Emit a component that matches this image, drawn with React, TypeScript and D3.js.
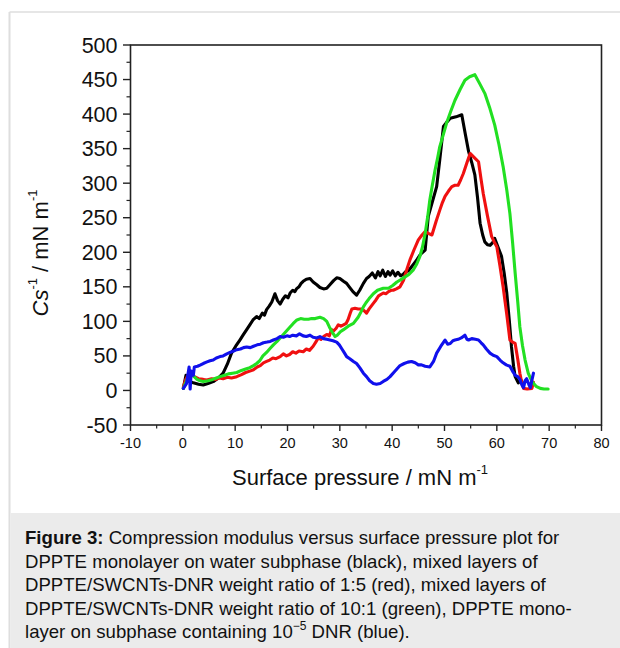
import React from "react";
import * as d3 from "d3";

const xTicks = [-10, 0, 10, 20, 30, 40, 50, 60, 70, 80];
const yTicks = [-50, 0, 50, 100, 150, 200, 250, 300, 350, 400, 450, 500];

const blackSeries: [number, number][] = [
  [0.1,3],[0.6,22],[1.0,14],[2.0,11],[3.0,9],[3.9,8],[4.8,10],[5.8,12.8],[6.8,18],[7.7,25],[8.5,38],[9.3,54],[10.1,64],[10.9,73],[11.5,80],[12.2,88],[12.8,95],[13.4,102],[14.1,107],[14.6,104],[15.2,112],[15.6,109],[16.0,117],[16.5,122],[17.0,128],[17.6,140],[18.1,130],[18.6,125],[19.1,132],[19.6,137],[20.1,134],[20.5,141],[21.0,145],[21.4,143],[21.7,147],[22.2,150],[22.6,155],[23.0,158],[23.6,161],[24.3,162],[24.9,157],[25.6,153],[26.2,149],[26.9,147],[27.5,148],[28.1,153],[28.8,159],[29.4,163],[30.0,162],[30.7,158],[31.3,155],[31.8,150],[32.5,143],[33.2,138],[33.8,145],[34.5,155],[35.1,162],[35.6,165],[36.2,170],[36.8,163],[37.3,172],[37.7,166],[38.2,174],[38.7,165],[39.2,172],[39.6,167],[40.1,173],[40.6,166],[41.1,171],[41.6,166],[42.1,168],[42.6,172],[43.1,173],[43.6,178],[44.2,184],[44.8,190],[45.4,197],[46.3,203],[46.9,252],[47.6,271],[48.5,295],[49.1,334],[49.8,382],[50.4,388],[51.1,394],[52.2,396],[53.3,399],[54.0,370],[54.6,346],[55.2,330],[55.8,312],[56.3,280],[56.8,242],[57.3,225],[57.7,215],[58.2,211],[58.7,210],[59.2,214],[59.6,220],[60.2,208],[60.9,194],[61.4,170],[61.9,141],[62.4,100],[62.8,63],[63.2,35],[63.5,20],[64.1,11],[64.6,15],[65.0,10]
];

const redSeries: [number, number][] = [
  [0.1,5],[0.5,15],[1.0,22],[1.5,24],[2.2,20],[3.0,17],[3.9,16],[4.6,15],[5.5,17],[6.3,16],[7.0,18],[7.7,17],[8.5,19],[9.3,18],[10.3,20],[11.2,23],[12.0,26],[12.8,28],[13.5,30],[14.2,34],[14.8,36],[15.4,40],[16.0,42],[16.6,44],[17.2,47],[17.8,46],[18.6,49],[19.2,53],[19.8,50],[20.4,52],[21.0,56],[21.6,54],[22.2,57],[23.0,56],[23.6,60],[24.2,58],[24.9,64],[25.4,70],[25.9,76],[26.4,74],[26.9,78],[27.5,81],[28.0,79],[28.4,88],[28.8,86],[29.3,90],[29.7,95],[30.2,93],[30.7,95],[31.2,97],[31.6,103],[32.0,112],[32.3,118],[32.9,119],[33.5,118],[34.2,118],[34.7,115],[35.1,112],[35.6,118],[36.0,122],[36.4,126],[36.9,131],[37.4,137],[38.3,141],[38.8,140],[39.3,143],[39.8,145],[40.2,145],[40.8,147],[41.5,150],[42.2,160],[42.8,175],[43.4,189],[44.2,204],[45.0,218],[45.7,225],[46.3,230],[47.0,227],[47.6,225],[48.4,245],[49.1,261],[49.6,272],[50.1,281],[50.8,289],[51.4,295],[52.0,297],[52.6,297],[53.1,305],[53.6,314],[54.3,330],[54.9,343],[55.7,337],[56.5,331],[57.0,305],[57.4,285],[58.2,253],[59.0,223],[59.5,215],[60.0,208],[60.6,180],[61.2,150],[61.9,110],[62.5,73],[63.0,70],[63.5,68],[64.0,45],[64.4,25],[64.8,10],[65.1,3],[65.8,2],[66.7,3],[67.0,12]
];

const greenSeries: [number, number][] = [
  [0.1,3],[0.6,12],[1.0,20],[1.6,22],[2.0,21],[2.7,16],[3.3,14],[3.9,13],[4.8,14],[5.7,16],[6.4,18],[7.1,20],[8.0,22],[8.7,24],[9.5,25],[10.3,26],[11.2,29],[12.0,31],[12.8,33],[13.5,36],[14.1,39],[14.7,43],[15.3,50],[16.0,55],[16.7,61],[17.3,66],[18.0,71],[18.6,76],[19.2,81],[19.8,86],[20.4,91],[21.1,97],[21.8,102],[22.5,104],[23.2,103],[24.0,103],[24.6,104],[25.3,104],[26.2,106],[26.9,104],[27.5,100],[28.0,92],[28.5,85],[29.1,78],[29.5,80],[30.1,85],[30.7,88],[31.6,93],[32.6,97],[33.5,106],[34.0,113],[34.5,121],[35.0,127],[35.6,133],[36.4,140],[37.2,145],[38.3,148],[39.3,148],[40.1,152],[40.9,157],[41.6,160],[42.4,164],[43.2,168],[44.0,174],[44.7,183],[45.3,194],[45.8,208],[46.3,227],[46.8,252],[47.2,276],[47.7,298],[48.2,319],[48.7,337],[49.1,353],[49.8,371],[50.4,387],[51.2,404],[52.0,420],[53.0,436],[53.9,449],[54.8,454],[55.8,457],[56.8,443],[57.7,430],[58.6,410],[59.6,384],[60.4,356],[61.2,324],[61.9,290],[62.5,256],[63.0,215],[63.5,170],[64.0,128],[64.4,92],[64.9,65],[65.4,44],[66.0,25],[66.7,13],[67.5,6],[68.3,3],[69.0,2],[69.8,2]
];

const blueSeries: [number, number][] = [
  [0.1,3],[0.7,10],[1.2,34],[1.4,2],[1.6,28],[2.0,22],[2.2,34],[2.8,35],[3.4,37],[3.9,39],[4.5,41],[5.2,43],[5.8,44],[6.4,47],[7.1,49],[7.7,50],[8.4,53],[9.0,55],[9.7,57],[10.3,59],[11.0,60],[11.6,62],[12.2,63],[12.9,62],[13.5,64],[14.2,66],[14.8,67],[15.4,69],[16.1,70],[16.7,71],[17.3,73],[18.0,75],[18.6,78],[19.2,77],[19.9,79],[20.4,78],[21.0,80],[21.7,79],[22.3,82],[23.0,79],[23.6,78],[24.3,80],[24.9,77],[25.6,76],[26.2,78],[26.9,75],[27.5,74],[28.1,73],[28.7,72],[29.4,70],[29.9,66],[30.4,60],[30.9,54],[31.3,49],[31.9,46],[32.6,42],[33.2,39],[33.8,33],[34.5,25],[35.1,20],[35.7,14],[36.4,10],[37.0,9],[37.7,10],[38.3,13],[39.0,16],[39.6,20],[40.3,26],[40.9,31],[41.5,36],[42.3,39],[43.0,41],[43.7,42],[44.4,40],[45.0,37],[45.6,37],[46.3,35],[47.2,34],[47.9,42],[48.5,54],[49.3,64],[50.1,73],[50.6,67],[51.1,68],[51.6,72],[52.0,73],[52.6,74],[53.2,76],[53.9,80],[54.3,74],[54.6,73],[55.2,75],[55.9,74],[56.5,73],[57.0,69],[57.4,66],[58.0,60],[58.7,54],[59.3,51],[60.0,49],[60.6,44],[61.2,40],[61.8,37],[62.5,35],[63.0,28],[63.5,22],[64.0,20],[64.4,16],[64.8,8],[65.1,4],[65.4,14],[65.7,17],[66.1,9],[66.4,4],[66.7,15],[67.0,25]
];

const seriesList = [
  { name: "water subphase", data: blackSeries, color: "#000000" },
  { name: "1:5", data: redSeries, color: "#f01010" },
  { name: "10:1", data: greenSeries, color: "#22e022" },
  { name: "DNR", data: blueSeries, color: "#1010ec" },
];

const captionLines = [
  "DPPTE monolayer on water subphase (black), mixed layers of",
  "DPPTE/SWCNTs-DNR weight ratio of 1:5 (red), mixed layers of",
  "DPPTE/SWCNTs-DNR weight ratio of 10:1 (green), DPPTE mono-",
];

const FONT = "'Liberation Sans', Arial, Helvetica, sans-serif";

export default function App() {
  const x = d3.scaleLinear().domain([-10, 80]).range([130.5, 601.5]);
  const y = d3.scaleLinear().domain([-50, 500]).range([425, 45]);
  const line = d3
    .line<[number, number]>()
    .x((d) => x(d[0]))
    .y((d) => y(d[1]));

  const xMinor = d3.range(-5, 80, 10);
  const yMinor = d3.range(-25, 500, 50);

  return (
    <svg
      width={620}
      height={648}
      style={{ position: "absolute", left: 0, top: 0, background: "#fff" }}
      fontFamily={FONT}
    >
      <rect x={0} y={0} width={620} height={648} fill="#ffffff" />
      <line x1={9.5} y1={12} x2={620} y2={12} stroke="#dedede" strokeWidth={1.5} />
      <line x1={9.5} y1={12} x2={9.5} y2={648} stroke="#dedede" strokeWidth={2} />
      <rect x={10.5} y={513} width={610} height={135} fill="#ebebeb" />

      <defs>
        <clipPath id="plotclip">
          <rect x={130.5} y={45} width={471} height={380} />
        </clipPath>
      </defs>
      <g clipPath="url(#plotclip)">
        {seriesList.map((s) => (
          <path
            key={s.name}
            d={line(s.data) || ""}
            fill="none"
            stroke={s.color}
            strokeWidth={3.1}
            strokeLinejoin="round"
            strokeLinecap="round"
          />
        ))}
      </g>

      <rect x={130.5} y={45} width={471} height={380} fill="none" stroke="#222" strokeWidth={1.6} />

      {yTicks.map((t) => (
        <g key={"y" + t}>
          <line x1={123} x2={130.5} y1={y(t)} y2={y(t)} stroke="#222" strokeWidth={1.4} />
          <text x={117.5} y={y(t) + 7.5} textAnchor="end" fontSize={21.5} fill="#111">
            {t}
          </text>
        </g>
      ))}
      {yMinor.map((t) => (
        <line key={"ym" + t} x1={126.5} x2={130.5} y1={y(t)} y2={y(t)} stroke="#222" strokeWidth={1.2} />
      ))}

      {xTicks.map((t) => (
        <g key={"x" + t}>
          <line x1={x(t)} x2={x(t)} y1={425} y2={431} stroke="#222" strokeWidth={1.4} />
          <text x={x(t)} y={448} textAnchor="middle" fontSize={14.5} fill="#111">
            {t}
          </text>
        </g>
      ))}
      {xMinor.map((t) => (
        <line key={"xm" + t} x1={x(t)} x2={x(t)} y1={425} y2={428.5} stroke="#222" strokeWidth={1.2} />
      ))}

      <text x={232} y={485} fontSize={22} fill="#111">
        Surface pressure / mN m
        <tspan fontSize={13} dy={-11}>-1</tspan>
      </text>

      <text transform="translate(48,253) rotate(-90)" textAnchor="middle" fontSize={22} fill="#111">
        <tspan fontStyle="italic">Cs</tspan>
        <tspan fontSize={13} dy={-11}>-1</tspan>
        <tspan dy={11}> / mN m</tspan>
        <tspan fontSize={13} dy={-11}>-1</tspan>
      </text>

      <text x={25} y={544} fontSize={18.6} fill="#111">
        <tspan fontWeight="bold">Figure 3:</tspan> Compression modulus versus surface pressure plot for
      </text>
      {captionLines.map((l, i) => (
        <text key={i} x={25} y={567.5 + i * 23.5} fontSize={18.6} fill="#111">
          {l}
        </text>
      ))}
      <text x={25} y={638} fontSize={18.6} fill="#111">
        layer on subphase containing 10
        <tspan fontSize={12} dy={-8.5}>−5</tspan>
        <tspan dy={8.5}> DNR (blue).</tspan>
      </text>
    </svg>
  );
}
